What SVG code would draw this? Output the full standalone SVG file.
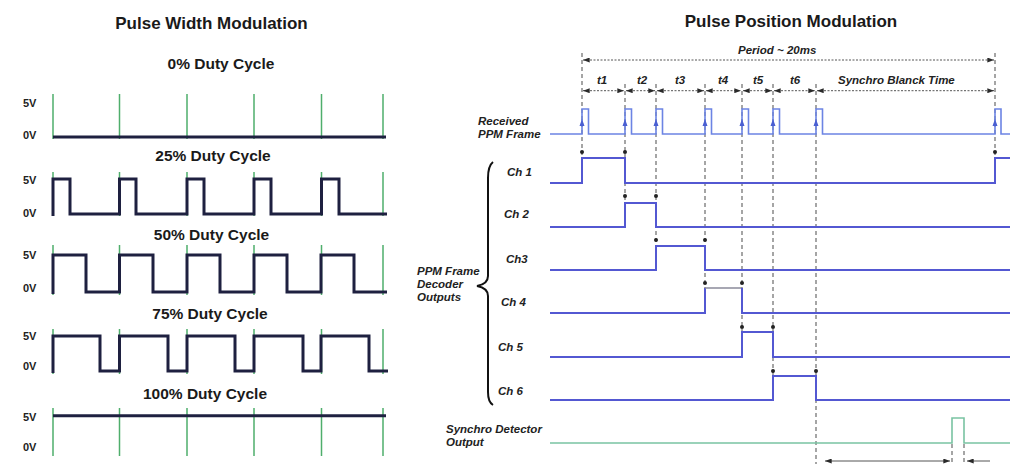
<svg xmlns="http://www.w3.org/2000/svg" width="1010" height="464" viewBox="0 0 1010 464">
<defs>
<style>
.title{font-family:"Liberation Sans",Arial,sans-serif;font-weight:bold;font-size:17px;fill:#1a1a1a}
.duty{font-family:"Liberation Sans",Arial,sans-serif;font-weight:bold;font-size:15.5px;fill:#1a1a1a;text-anchor:middle}
.lvl{font-family:"Liberation Sans",Arial,sans-serif;font-weight:bold;font-size:11px;fill:#222}
.lab{font-family:"Liberation Sans",Arial,sans-serif;font-weight:bold;font-style:italic;font-size:11.5px;fill:#222}
.grid{stroke:#4fae6c;stroke-width:1.5;fill:none}
.wave{stroke:#1e2040;stroke-width:3;fill:none;stroke-linejoin:miter}
.sig{stroke:#5358d2;stroke-width:2;fill:none}
.rx{stroke:#6c84e4;stroke-width:1.6;fill:none}
.sync{stroke:#79c3a2;stroke-width:1.6;fill:none}
.dash{stroke:#6a6a6a;stroke-width:1.2;stroke-dasharray:4 3;fill:none}
.dim{stroke:#555;stroke-width:1;stroke-dasharray:2 1.5;fill:none}
.solid{stroke:#555;stroke-width:1;fill:none}
.dot{fill:#222}
.up{fill:#4a5fd2}
</style>
<marker id="ah" viewBox="0 0 8 6" refX="8" refY="3" markerWidth="7" markerHeight="5" markerUnits="userSpaceOnUse" orient="auto-start-reverse">
<path d="M0,0 L8,3 L0,6 z" fill="#2a2a2a"/>
</marker>
</defs>
<rect width="1010" height="464" fill="#ffffff"/>

<!-- Pulse Width Modulation -->
<text class="title" x="211.5" y="29" text-anchor="middle">Pulse Width Modulation</text>

<g id="pwm-0">
<text class="duty" x="221" y="69">0% Duty Cycle</text>
<text class="lvl" x="23" y="107">5V</text>
<text class="lvl" x="23" y="139">0V</text>
<path class="grid" d="M53,94V139M119.5,94V139M187,94V139M254,94V139M321.5,94V139M383,94V139"/>
<path class="wave" d="M53,137H386"/>
</g>

<g id="pwm-25">
<text class="duty" x="213" y="161">25% Duty Cycle</text>
<text class="lvl" x="23" y="184">5V</text>
<text class="lvl" x="23" y="217">0V</text>
<path class="grid" d="M53,172V216M119.5,172V216M187,172V216M254,172V216M321.5,172V216M383,172V216"/>
<path class="wave" d="M53,216V179H70V214H119.5V179H136V214H187V179H204V214H254V179H271V214H321.5V179H339V214H387"/>
</g>

<g id="pwm-50">
<text class="duty" x="211.5" y="240">50% Duty Cycle</text>
<text class="lvl" x="23" y="259">5V</text>
<text class="lvl" x="23" y="292">0V</text>
<path class="grid" d="M53,245V295M119.5,245V295M187,245V295M254,245V295M321.5,245V295M383,245V295"/>
<path class="wave" d="M53,294V255H86V292H119.5V255H153V292H187V255H220V292H254V255H287V292H321V255H354V292H387"/>
</g>

<g id="pwm-75">
<text class="duty" x="210" y="319">75% Duty Cycle</text>
<text class="lvl" x="23" y="340">5V</text>
<text class="lvl" x="23" y="370">0V</text>
<path class="grid" d="M53,329V374M119.5,329V374M187,329V374M254,329V374M321.5,329V374M383,329V374"/>
<path class="wave" d="M53,373V336H100V371H119.5V336H168V371H187V336H235V371H254V336H303V371H321V336H369V371H388"/>
</g>

<g id="pwm-100">
<text class="duty" x="205" y="399">100% Duty Cycle</text>
<text class="lvl" x="23" y="421">5V</text>
<text class="lvl" x="23" y="451">0V</text>
<path class="grid" d="M53,408V456M119.5,408V456M187,408V456M254,408V456M321.5,408V456M383,408V456"/>
<path class="wave" d="M53,415.7H386"/>
</g>

<!-- Pulse Position Modulation -->
<text class="title" x="791" y="27" text-anchor="middle">Pulse Position Modulation</text>

<g id="connectors">
<path class="dash" d="M582,53V157"/>
<path class="dash" d="M625,84V203"/>
<path class="dash" d="M656,84V246"/>
<path class="dash" d="M705,84V288"/>
<path class="dash" d="M742,84V332"/>
<path class="dash" d="M773,84V376"/>
<path class="dash" d="M816,84V464"/>
<path class="dash" d="M995,53V158"/>
<path class="dash" d="M952,444V464"/>
<path class="dash" d="M964,444V464"/>
<path class="dim" d="M583,60H994" marker-start="url(#ah)" marker-end="url(#ah)"/>
<path class="dim" d="M583,90.7H624" marker-start="url(#ah)" marker-end="url(#ah)"/>
<path class="dim" d="M626,90.7H655" marker-start="url(#ah)" marker-end="url(#ah)"/>
<path class="dim" d="M657,90.7H704" marker-start="url(#ah)" marker-end="url(#ah)"/>
<path class="dim" d="M706,90.7H741" marker-start="url(#ah)" marker-end="url(#ah)"/>
<path class="dim" d="M743,90.7H772" marker-start="url(#ah)" marker-end="url(#ah)"/>
<path class="dim" d="M774,90.7H815" marker-start="url(#ah)" marker-end="url(#ah)"/>
<path class="dim" d="M817,90.7H994" marker-start="url(#ah)" marker-end="url(#ah)"/>
<path class="solid" d="M825,461H950" marker-start="url(#ah)" marker-end="url(#ah)"/>
<path class="solid" d="M967,461H990" marker-start="url(#ah)"/>
<circle class="dot" cx="582" cy="152" r="2"/>
<circle class="dot" cx="625" cy="152" r="2"/>
<circle class="dot" cx="995" cy="152" r="2"/>
<circle class="dot" cx="625" cy="196" r="2"/>
<circle class="dot" cx="656" cy="196" r="2"/>
<circle class="dot" cx="656" cy="240" r="2"/>
<circle class="dot" cx="705" cy="240" r="2"/>
<circle class="dot" cx="705" cy="283" r="2"/>
<circle class="dot" cx="742" cy="283" r="2"/>
<circle class="dot" cx="742" cy="327" r="2"/>
<circle class="dot" cx="773" cy="327" r="2"/>
<circle class="dot" cx="773" cy="371" r="2"/>
<circle class="dot" cx="816" cy="371" r="2"/>
</g>

<g id="labels-time">
<text class="lab" x="738" y="54">Period  ~ 20ms</text>
<text class="lab" x="602" y="84" text-anchor="middle">t1</text>
<text class="lab" x="642" y="84" text-anchor="middle">t2</text>
<text class="lab" x="680" y="84" text-anchor="middle">t3</text>
<text class="lab" x="723" y="84" text-anchor="middle">t4</text>
<text class="lab" x="758" y="84" text-anchor="middle">t5</text>
<text class="lab" x="795" y="84" text-anchor="middle">t6</text>
<text class="lab" x="838" y="84">Synchro Blanck Time</text>
</g>

<g id="ppm-frame">
<text class="lab" x="478" y="125">Received</text>
<text class="lab" x="478" y="138">PPM Frame</text>
<path class="rx" d="M550,134H582V109H588.5V134H625V109H631.5V134H656V109H662.5V134H705V109H711.5V134H742V109H748.5V134H773V109H779.5V134H816V109H822.5V134H995V109H1001V134H1010"/>
<polygon class="up" points="579.5,126 584.5,126 582,119"/>
<polygon class="up" points="622.5,126 627.5,126 625,119"/>
<polygon class="up" points="653.5,126 658.5,126 656,119"/>
<polygon class="up" points="702.5,126 707.5,126 705,119"/>
<polygon class="up" points="739.5,126 744.5,126 742,119"/>
<polygon class="up" points="770.5,126 775.5,126 773,119"/>
<polygon class="up" points="813.5,126 818.5,126 816,119"/>
<polygon class="up" points="992.5,126 997.5,126 995,119"/>
</g>

<g id="decoder-brace">
<path d="M493,162 Q488,166 488,178 V276 Q488,284 477,286 Q488,288 488,296 V392 Q488,402 493,405" stroke="#111" stroke-width="2" fill="none"/>
<text class="lab" x="417" y="275">PPM Frame</text>
<text class="lab" x="417" y="288">Decoder</text>
<text class="lab" x="417" y="301">Outputs</text>
</g>

<g id="ch1">
<text class="lab" x="507" y="176">Ch 1</text>
<path class="sig" d="M550,183H582V158H625V183H995V158H1010"/>
</g>
<g id="ch2">
<text class="lab" x="504" y="218">Ch 2</text>
<path class="sig" d="M550,227H625V203H656V227H1010"/>
</g>
<g id="ch3">
<text class="lab" x="506" y="263">Ch3</text>
<path class="sig" d="M550,270H656V246H705V270H1010"/>
</g>
<g id="ch4">
<text class="lab" x="501" y="306">Ch 4</text>
<path class="sig" d="M550,313H705V288"/>
<path d="M705,288H742" stroke="#8a8a9a" stroke-width="1.6" fill="none"/>
<path class="sig" d="M742,288V313H1010"/>
</g>
<g id="ch5">
<text class="lab" x="498" y="351">Ch 5</text>
<path class="sig" d="M550,357H742V332H773V357H1010"/>
</g>
<g id="ch6">
<text class="lab" x="498" y="395">Ch 6</text>
<path class="sig" d="M550,400H773V376H816V400H1010"/>
</g>
<g id="synchro">
<text class="lab" x="446" y="433">Synchro Detector</text>
<text class="lab" x="446" y="446">Output</text>
<path class="sync" d="M550,443H952V418H964V443H1010"/>
</g>
</svg>
